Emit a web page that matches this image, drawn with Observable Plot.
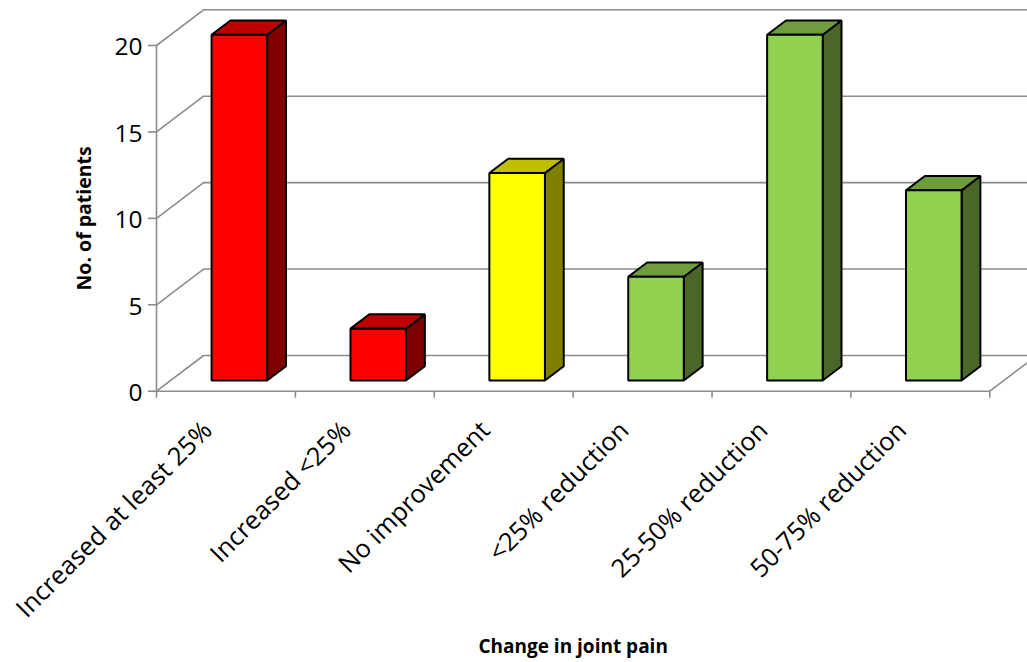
<!DOCTYPE html>
<html>
<head>
<meta charset="utf-8">
<style>html,body{margin:0;padding:0;background:#fff}svg{display:block}</style>
<script src="https://cdn.jsdelivr.net/npm/d3@7"></script>
<script src="https://cdn.jsdelivr.net/npm/@observablehq/plot@0.6"></script>
</head>
<body>
<script>
// Patient counts by change in joint pain
const categories = ["Increased at least 25%", "Increased <25%", "No improvement", "<25% reduction", "25-50% reduction", "50-75% reduction"];
const patients = [20, 3, 12, 6, 20, 11];
const outcome = ["worse", "worse", "same", "better", "better", "better"];
const yTicks = [0, 5, 10, 15, 20];

const palette = {
  worse: {front: "#ff0000", side: "#7f0000", top: "#bf0000"},
  same: {front: "#ffff00", side: "#7f7f00", top: "#bfbf00"},
  better: {front: "#92d050", side: "#4a6729", top: "#6f9c3d"}
};
const gridColor = "#8c8c8c";
const labelFont = "Open Sans";

// Oblique projection: one unit of depth moves a point right along x and up along y
const depthX = 0.339;
const depthY = 2.066;
const project = (x, y, d) => ({x: x + d * depthX, y: y + d * depthY});

// Box faces: bars occupy the middle 40% of each category in width and depth
const faces = categories.flatMap((c, i) => {
  const l = i + 0.295, r = i + 0.695, v = patients[i], near = 0.3, far = 0.7;
  const colors = palette[outcome[i]];
  const face = (name, pts) => pts.map(([x, y, d]) => ({...project(x, y, d), id: `${i}-${name}`, fill: colors[name]}));
  return [
    ...face("side", [[r, 0, near], [r, 0, far], [r, v, far], [r, v, near]]),
    ...face("top", [[l, v, near], [r, v, near], [r, v, far], [l, v, far]]),
    ...face("front", [[l, 0, near], [r, 0, near], [r, v, near], [l, v, near]])
  ];
});

const wallLines = [
  ...yTicks.flatMap((v) => [
    {...project(0, v, 0), id: `wall-${v}`},
    {...project(0, v, 1), id: `wall-${v}`},
    {...project(6.3, v, 1), id: `wall-${v}`}
  ]),
  {...project(6, 0, 0), id: "floor"},
  {...project(6, 0, 1), id: "floor"}
];

const plot = Plot.plot({
  width: 1027,
  height: 662,
  marginLeft: 156,
  marginRight: 37.7,
  marginTop: 45,
  marginBottom: 271.3,
  style: {background: "#fff"},
  x: {domain: [0, 6], axis: null},
  y: {domain: [0, 20], axis: null},
  marks: [
    Plot.line(wallLines, {x: "x", y: "y", z: "id", stroke: gridColor, strokeWidth: 1.6}),
    Plot.ruleX([0], {y1: 0, y2: 20, stroke: gridColor, strokeWidth: 1.6}),
    Plot.ruleY([0], {x1: 0, x2: 6, stroke: gridColor, strokeWidth: 1.6}),
    Plot.axisX({
      ticks: d3.range(0, 7), tickSize: 7, tickFormat: () => "", stroke: gridColor,
      strokeWidth: 1.6, label: null
    }),
    Plot.axisY({
      ticks: yTicks, tickSize: 8, tickFormat: () => "", stroke: gridColor, strokeWidth: 1.6,
      label: null
    }),
    Plot.text(yTicks, {
      x: 0, y: (v) => v, text: (v) => `${v}`, textAnchor: "end",
      dx: -14, dy: 2, fontSize: 24.5, fontFamily: labelFont, fill: "#000"
    }),
    Plot.line(faces, {
      x: "x", y: "y", z: "id", fill: "fill", stroke: "#000", strokeWidth: 2,
      curve: "linear-closed", strokeLinejoin: "miter"
    }),
    Plot.text(categories, {
      x: (c, i) => i + 0.5, y: 0, text: (c) => c, rotate: -45, textAnchor: "end",
      dx: -18, dy: 35, fontSize: 25.4, fontFamily: labelFont, fill: "#000"
    }),
    Plot.text(["Change in joint pain"], {
      frameAnchor: "bottom", x: 3, dy: 262, fontSize: 19, fontWeight: "bold",
      fontFamily: labelFont, fill: "#000"
    }),
    Plot.text(["No. of patients"], {
      frameAnchor: "left", y: 10, dx: -72, rotate: -90, textAnchor: "middle", fontSize: 19.5, fontWeight: "bold",
      fontFamily: labelFont, fill: "#000"
    })
  ]
});
document.body.appendChild(plot);
</script>
</body>
</html>
